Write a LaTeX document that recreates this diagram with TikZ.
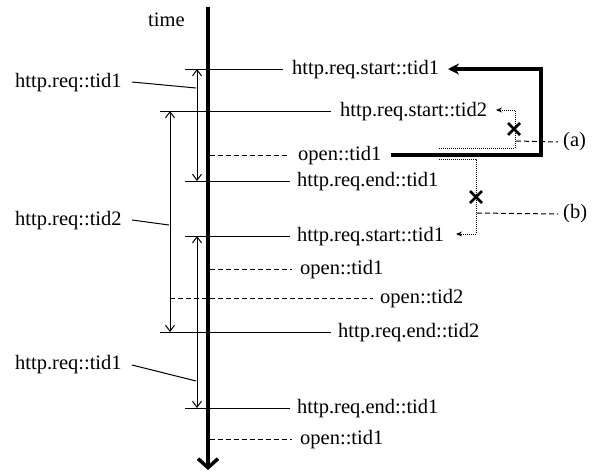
\documentclass[tikz,border=0pt]{standalone}
\usepackage{fontspec}
\setmainfont{Liberation Serif}
\usetikzlibrary{arrows.meta,calc}
\tikzset{
  lbl/.style={inner sep=0pt, anchor=west, font=\fontsize{20.5}{24}\selectfont},
  evline/.style={line width=1pt, black},
  dashline/.style={line width=1pt, dash pattern=on 5pt off 3pt},
  dotline/.style={line width=0.9pt, dash pattern=on 1pt off 1pt},
  span/.style={line width=1pt, {Straight Barb[length=6pt,width=9pt]}-{Straight Barb[length=6pt,width=9pt]}},
  leader/.style={line width=1pt},
  axis/.style={line width=4pt, -{Straight Barb[length=9pt,width=20pt,line width=3.5pt]}},
  thickpath/.style={line width=3.5pt, -{Stealth[length=11pt,width=11pt]}},
  dotarrow/.style={dotline, -{Stealth[length=6pt,width=5pt]}},
  xmark/.style={line width=2.6pt}
}
\begin{document}
\begin{tikzpicture}[x=1pt,y=-1pt]
\useasboundingbox (0,0) rectangle (600,472);
% axis
\coordinate (ax0) at (208,7);
\coordinate (ax1) at (208,470);
\draw[axis] (ax0) -- (ax1);
\node[lbl, anchor=base west] (time) at (148,26) {time};

% event labels
\node[lbl] (s1) at (292,70) {http.req.start::tid1};
\node[lbl] (s2) at (340,112) {http.req.start::tid2};
\node[lbl] (o1) at (298,156) {open::tid1};
\node[lbl] (e1) at (297,182) {http.req.end::tid1};
\node[lbl] (s3) at (297,237) {http.req.start::tid1};
\node[lbl] (o2) at (300,270) {open::tid1};
\node[lbl] (o3) at (380,299) {open::tid2};
\node[lbl] (e2) at (338,333) {http.req.end::tid2};
\node[lbl] (e3) at (297,409) {http.req.end::tid1};
\node[lbl] (o4) at (300,440) {open::tid1};

% left starts of lines
\coordinate (ls1) at (185,69);
\coordinate (ls2) at (160,111);
\coordinate (lo1) at (210,155);
\coordinate (le1) at (185,181);
\coordinate (ls3) at (185,236);
\coordinate (lo2) at (210,269);
\coordinate (lo3) at (170,298);
\coordinate (le2) at (160,332);
\coordinate (le3) at (185,408);
\coordinate (lo4) at (210,439);

\draw[evline] (ls1) -- (283,69);
\draw[evline] (ls2) -- (331,111);
\draw[dashline] (lo1) -- (290,155);
\draw[evline] (le1) -- (290,181);
\draw[evline] (ls3) -- (290,236);
\draw[dashline] (lo2) -- (292,269);
\draw[dashline] (lo3) -- (373,298);
\draw[evline] (le2) -- (331,332);
\draw[evline] (le3) -- (290,408);
\draw[dashline] (lo4) -- (292,439);

% spans
\coordinate (a1t) at (197,69);
\coordinate (a1b) at (197,181);
\coordinate (a2t) at (170,111);
\coordinate (a2b) at (170,332);
\coordinate (a3t) at (197,236);
\coordinate (a3b) at (197,408);
\draw[span] (a1t) -- (a1b);
\draw[span] (a2t) -- (a2b);
\draw[span] (a3t) -- (a3b);

% left labels
\node[lbl] (r1) at (15,83) {http.req::tid1};
\node[lbl] (r2) at (15,221) {http.req::tid2};
\node[lbl] (r3) at (15,365) {http.req::tid1};
\draw[leader] (132,82) -- (196,88);
\draw[leader] (132,220) -- (169,225);
\draw[leader] (132,365) -- (196,381);

% thick path
\coordinate (tp0) at (391,155);
\coordinate (tp1) at (541,155);
\coordinate (tp2) at (541,69);
\coordinate (tp3) at (448,69);
\draw[thickpath] (tp0) -- (tp1) -- (tp2) -- (tp3);

% (a) dotted path
\coordinate (da0) at (439,148);
\coordinate (da1) at (515,148);
\coordinate (da2) at (515,110);
\coordinate (da3) at (496,110);
\draw[dotarrow] (da0) -- (da1) -- (da2) -- (da3);
\coordinate (xa) at (514,129);
\draw[xmark] ($(xa)+(-6,-6)$) -- ($(xa)+(6,6)$);
\draw[xmark] ($(xa)+(-6,6)$) -- ($(xa)+(6,-6)$);
\node[lbl] (la) at (563,142) {(a)};
\draw[dashline] (516,141) -- ([xshift=-5pt]la.west);

% (b) dotted path
\coordinate (db0) at (439,159);
\coordinate (db1) at (476,159);
\coordinate (db2) at (476,234);
\coordinate (db3) at (456,234);
\draw[dotarrow] (db0) -- (db1) -- (db2) -- (db3);
\coordinate (xb) at (476,197);
\draw[xmark] ($(xb)+(-6,-6)$) -- ($(xb)+(6,6)$);
\draw[xmark] ($(xb)+(-6,6)$) -- ($(xb)+(6,-6)$);
\node[lbl] (lb) at (563,214) {(b)};
\draw[dashline] (477,213) -- ([xshift=-5pt]lb.west);
\end{tikzpicture}
\end{document}
